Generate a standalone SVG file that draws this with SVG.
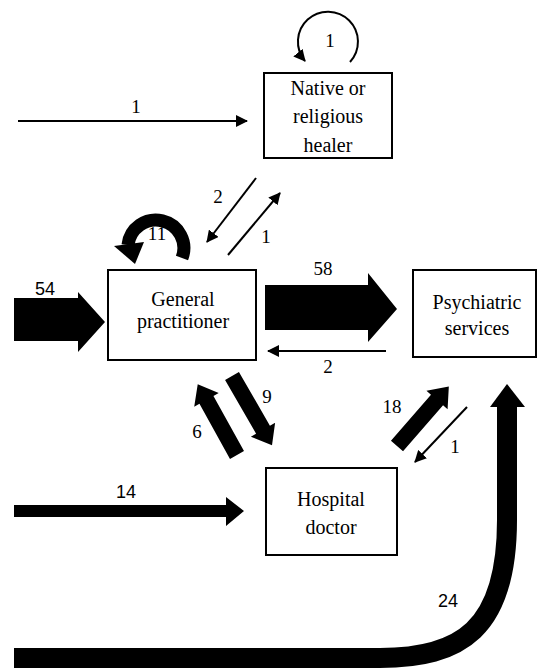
<svg xmlns="http://www.w3.org/2000/svg" width="538" height="668" viewBox="0 0 538 668">
<style>
.box{fill:#fff;stroke:#000;stroke-width:2}
.t{font-size:20px;fill:#000;text-anchor:middle}
.lb{font-size:19px;fill:#000;text-anchor:middle}
.ls{font-size:18px;fill:#000;text-anchor:middle}
.thin{fill:none;stroke:#000;stroke-width:2;marker-end:url(#ah)}
.thick{fill:#000;stroke:none}
</style>
<defs>
<marker id="ah" markerUnits="userSpaceOnUse" viewBox="0 0 12 12" markerWidth="12" markerHeight="12" refX="11" refY="6" orient="auto">
<path d="M0,0 L12,6 L0,12 z" fill="#000"/>
</marker>
</defs>
<g id="connectors" font-family="Liberation Serif, DejaVu Serif, Times New Roman, serif">
<path class="thin" d="M18,121 H247"/>
<path class="thin" d="M350,62 A30,30 0 1 0 305,61"/>
<path class="thin" d="M256,178 L207,242"/>
<path class="thin" d="M228,255 L280,193"/>
<path class="thin" d="M386,351 L268,351"/>
<path class="thin" d="M467,407 L415,462"/>
<path d="M182,258 A28,28 0 1 0 128,245" fill="none" stroke="#000" stroke-width="13"/>
<polygon class="thick" points="114,246 144,242 135,264"/>
<polygon class="thick" points="14,298 78,298 78,292 105,322 78,352 78,341 14,341"/>
<polygon class="thick" points="265,285 368,285 368,273 397,309 368,342 368,330 265,330"/>
<polygon class="thick" points="14,505 226,505 226,497 244,511 226,526 226,517 14,517"/>
<polygon class="thick" transform="translate(232,376) rotate(60)" points="0,-8 62,-8 62,-14 80,0 62,14 62,8 0,8"/>
<polygon class="thick" transform="translate(237,455) rotate(-119)" points="0,-8 63,-8 63,-14 81,0 63,14 63,8 0,8"/>
<polygon class="thick" transform="translate(397,446) rotate(-49)" points="0,-8 61,-8 61,-14 79,0 61,14 61,8 0,8"/>
<path d="M507,405 V520 C507,630 460,658 380,658 H14" fill="none" stroke="#000" stroke-width="20"/>
<polygon class="thick" points="490,407 507,384 525,407"/>
<text class="lb" x="136" y="113">1</text>
<text class="lb" x="330" y="47">1</text>
<text class="lb" x="218" y="203">2</text>
<text class="lb" x="266" y="243">1</text>
<text class="lb" x="157" y="240">11</text>
<text class="ls" x="45" y="295" font-family="Liberation Sans, Arial, sans-serif">54</text>
<text class="lb" x="323" y="275">58</text>
<text class="lb" x="328" y="373">2</text>
<text class="lb" x="267" y="403">9</text>
<text class="lb" x="197" y="438">6</text>
<text class="lb" x="392" y="413">18</text>
<text class="lb" x="455" y="453">1</text>
<text class="ls" x="126" y="498" font-family="Liberation Sans, Arial, sans-serif">14</text>
<text class="ls" x="448" y="607" font-family="Liberation Sans, Arial, sans-serif">24</text>
</g>
<g id="native" font-family="Liberation Serif, DejaVu Serif, Times New Roman, serif">
<rect class="box" x="264" y="73" width="128" height="85"/>
<text class="t" x="328" y="95">Native or</text>
<text class="t" x="328" y="123">religious</text>
<text class="t" x="328" y="152">healer</text>
</g>
<g id="gp" font-family="Liberation Serif, DejaVu Serif, Times New Roman, serif">
<rect class="box" x="108" y="270" width="148" height="90"/>
<text class="t" x="183" y="306">General</text>
<text class="t" x="183" y="328">practitioner</text>
</g>
<g id="psych" font-family="Liberation Serif, DejaVu Serif, Times New Roman, serif">
<rect class="box" x="413" y="270" width="123" height="87"/>
<text class="t" x="477" y="309">Psychiatric</text>
<text class="t" x="477" y="335">services</text>
</g>
<g id="hospital" font-family="Liberation Serif, DejaVu Serif, Times New Roman, serif">
<rect class="box" x="266" y="468" width="131" height="87"/>
<text class="t" x="331" y="506">Hospital</text>
<text class="t" x="331" y="534">doctor</text>
</g>
</svg>
